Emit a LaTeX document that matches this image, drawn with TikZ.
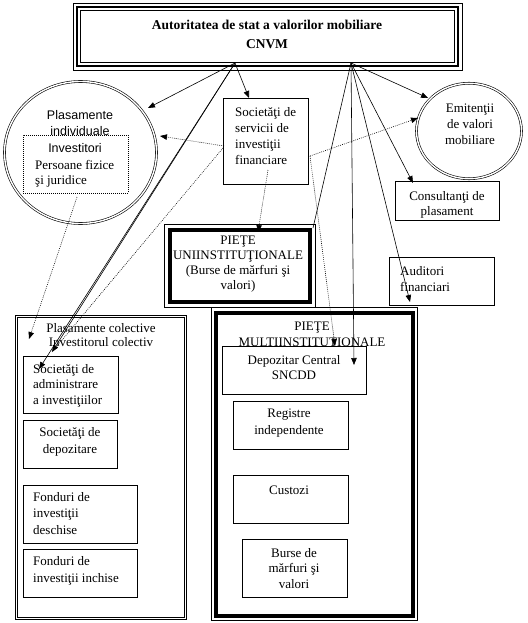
\documentclass[tikz,border=0pt]{standalone}
\usepackage{fontspec}
\setmainfont{Liberation Serif}
\newfontfamily\arialf{Liberation Sans}
\usetikzlibrary{arrows.meta,shapes.geometric,fit}
\begin{document}
\begin{tikzpicture}[x=1pt,y=-1pt,
  box/.style={draw, line width=0.7pt, inner sep=0pt},
  thickbox/.style={draw, line width=4pt, inner sep=0pt},
  dbox/.style={draw, double, double distance=1.6pt, line width=0.7pt, inner sep=0pt},
  dell/.style={ellipse, draw, double, double distance=1.4pt, line width=0.6pt, inner sep=0pt},
  dotbox/.style={draw, line width=0.6pt, dash pattern=on 0.8pt off 1.2pt, inner sep=0pt},
  txt/.style={font=\fontsize{13}{#1}\selectfont, inner sep=0pt, align=center},
  txt/.default=16,
  ltxt/.style={font=\fontsize{13}{#1}\selectfont, inner sep=0pt, align=left, anchor=west},
  ltxt/.default=16,
  stxt/.style={font=\arialf\fontsize{12.5}{16}\selectfont, inner sep=0pt, align=center},
  arr/.style={-{Triangle[length=7pt,width=5.5pt]}, line width=0.6pt},
  ln/.style={line width=0.6pt},
  dotl/.style={line width=0.6pt, dash pattern=on 0.8pt off 1.2pt},
  dotarr/.style={dotl, -{Triangle[length=7pt,width=5.5pt]}}
]
\useasboundingbox (0,0) rectangle (527,623);

% top box
\node[box, fit={(73,3) (462,70)}] (top) {};
\node[draw, line width=2.2pt, inner sep=0pt, fit={(77,7) (458,66)}] (top2) {};
\node[box, fit={(80.5,10.5) (454.5,62.5)}] (top3) {};
\node[inner sep=0pt, align=center, font=\bfseries\fontsize{13.5}{19}\selectfont] (title) at (267,34.5) {Autoritatea de stat a valorilor mobiliare\\CNVM};

% Plasamente individuale
\node[dell, minimum width=152pt, minimum height=142pt] (plind) at (80.5,152.5) {};
\node[stxt] (plind-t) at (80,123) {Plasamente\\individuale};
\node[dotbox, fit={(23,135) (128,193)}] (inv) {};
\node[stxt] (inv-t) at (75,148) {Investitori};
\node[ltxt] (pf-t) at (35,165) {Persoane fizice};
\node[ltxt] (sj-t) at (35,181) {şi juridice};

% Societati de servicii
\node[box, fit={(223,98) (308,184)}] (soc) {};
\node[ltxt] (soc-t) at (235,136) {Societăţi de\\servicii de\\investiţii\\financiare};

% Emitentii
\node[dell, minimum width=105pt, minimum height=95.5pt] (emit) at (469,131) {};
\node[txt] (emit-t) at (470,124) {Emitenţii\\de valori\\mobiliare};

% Consultanti
\node[box, fit={(395,181) (499,220)}] (cons) {};
\node[txt=15] (cons-t) at (447,204.5) {Consultanţi de\\plasament};

% Piete uniinstitutionale
\node[box, fit={(164,224) (315,307)}] (uni) {};
\node[thickbox, fit={(170,230) (310,302)}] (uni2) {};
\node[txt=15] (uni-t) at (238,264) {PIEŢE\\UNIINSTITUŢIONALE\\(Burse de mărfuri şi\\valori)};

% Auditori
\node[box, fit={(389,257) (494,305)}] (aud) {};
\node[ltxt] (aud-t) at (400,279) {Auditori\\financiari};

% Plasamente colective
\node[dbox, fit={(16.5,316.5) (185.5,618.5)}] (col) {};
\node[txt=14] (col-t) at (101,335) {Plasamente colective\\Investitorul colectiv};
\node[box, fit={(23,356) (118,413)}] (adm) {};
\node[ltxt=15.5] (adm-t) at (33,385.5) {Societăţi de\\administrare\\a investiţiilor};
\node[box, fit={(23,420) (117,468)}] (dpz) {};
\node[txt=17] (dpz-t) at (70,441.5) {Societăţi de\\depozitare};
\node[box, fit={(23,485) (137,543)}] (fd) {};
\node[ltxt=16.5] (fd-t) at (33,513.5) {Fonduri de\\investiţii\\deschise};
\node[box, fit={(23,549) (137,597)}] (fi) {};
\node[ltxt=17] (fi-t) at (33,570.5) {Fonduri de\\investiţii inchise};

% Piete multiinstitutionale
\node[box, fit={(211,307) (417,620)}] (multi) {};
\node[thickbox, fit={(216,312.5) (413,615.5)}] (multi2) {};
\node[txt] (multi-t) at (312,334) {PIEŢE\\MULTIINSTITUTIONALE};
\node[box, fit={(222,346) (366,394)}] (dep) {};
\node[txt=15] (dep-t) at (294,368) {Depozitar Central\\SNCDD};
\node[box, fit={(233,401) (348,449)}] (reg) {};
\node[txt=17] (reg-t) at (289,423.5) {Registre\\independente};
\node[box, fit={(233,475) (348,523)}] (cus) {};
\node[txt] (cus-t) at (289,490) {Custozi};
\node[box, fit={(242,539) (347,597)}] (bur) {};
\node[txt=15.5] (bur-t) at (294,568.5) {Burse de\\mărfuri şi\\valori};

% connector points
\coordinate (A) at (235,63);
\coordinate (B) at (351,63);
\coordinate (e-plind) at (148,108);
\coordinate (e-soc) at (249,98);
\coordinate (e-col1) at (52,352);
\coordinate (e-adm) at (39,369);
\coordinate (e-emit) at (428,98);
\coordinate (e-cons) at (413,183);
\coordinate (e-aud) at (410,302);
\coordinate (e-dep) at (354,365);
\coordinate (e-uni) at (313,228);
\coordinate (s1) at (224,146);
\coordinate (s2) at (223,148);
\coordinate (s3) at (310,156);
\coordinate (s4) at (268,170);
\coordinate (e-plind2) at (160,136);
\coordinate (e-emit2) at (418,118);
\coordinate (e-uni2) at (258,232);
\coordinate (e-multi) at (335,346);
\coordinate (i1) at (77,197);
\coordinate (e-col0) at (29,339);

% solid connectors
\draw[arr] (A) -- (e-plind);
\draw[arr] (A) -- (e-soc);
\draw[arr] (A) -- (e-col1);
\draw[arr] (A) -- (e-adm);
\draw[arr] (B) -- (e-emit);
\draw[arr] (B) -- (e-cons);
\draw[arr] (B) -- (e-aud);
\draw[arr] (B) -- (e-dep);
\draw[ln] (B) -- (e-uni);

% dotted connectors
\draw[dotarr] (s1) -- (e-plind2);
\draw[dotl] (s2) -- (e-col1);
\draw[dotarr] (s3) -- (e-emit2);
\draw[dotarr] (s4) -- (e-uni2);
\draw[dotarr] (s3) -- (e-multi);
\draw[dotarr] (i1) -- (e-col0);
\end{tikzpicture}
\end{document}
